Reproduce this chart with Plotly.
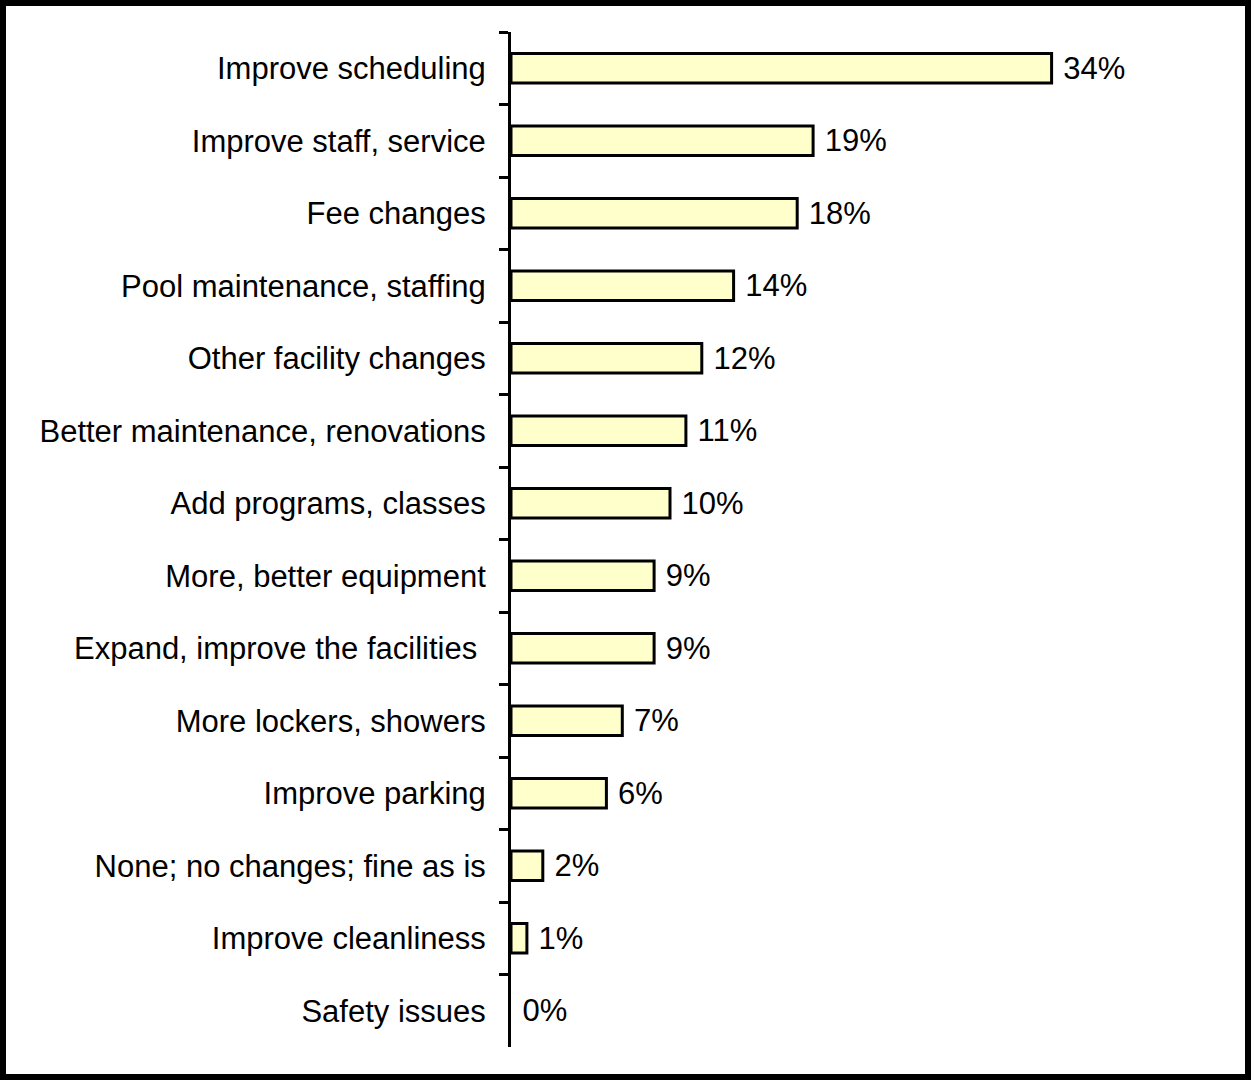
import plotly.graph_objects as go

categories = [
    "Improve scheduling",
    "Improve staff, service",
    "Fee changes",
    "Pool maintenance, staffing",
    "Other facility changes",
    "Better maintenance, renovations",
    "Add programs, classes",
    "More, better equipment",
    "Expand, improve the facilities ",
    "More lockers, showers",
    "Improve parking",
    "None; no changes; fine as is",
    "Improve cleanliness",
    "Safety issues",
]
values = [34, 19, 18, 14, 12, 11, 10, 9, 9, 7, 6, 2, 1, 0]

W, H = 1251, 1080
ml, mr, mt, mb = 511, 104, 32, 33
xmax = 40
FS = 31
FONT = "Liberation Sans, Arial"

fig = go.Figure(go.Bar(
    x=values,
    y=categories,
    orientation="h",
    width=0.41,
    marker=dict(color="#FFFFCC",
                line=dict(color="black", width=[3 if v > 0 else 0 for v in values])),
    text=[f"\u00a0{v}%" for v in values],
    textposition="outside",
    constraintext="none",
    textfont=dict(color="black", size=FS, family=FONT),
    cliponaxis=False,
))

pw = W - ml - mr
ph = H - mt - mb
fig.add_shape(
    type="rect", xref="paper", yref="paper",
    x0=-ml / pw, x1=1 + mr / pw, y0=-mb / ph, y1=1 + mt / ph,
    line=dict(color="black", width=12), fillcolor="rgba(0,0,0,0)", layer="above",
)

fig.update_layout(
    width=W, height=H,
    margin=dict(l=ml, r=mr, t=mt, b=mb, pad=0),
    paper_bgcolor="white", plot_bgcolor="white",
    showlegend=False,
    font=dict(family=FONT, size=FS, color="black"),
    xaxis=dict(range=[0, xmax], visible=False, showgrid=False, zeroline=False),
    yaxis=dict(
        categoryorder="array", categoryarray=categories,
        autorange="reversed",
        showline=True, linecolor="black", linewidth=3,
        ticks="outside", tickson="boundaries", ticklen=9, tickwidth=3, tickcolor="black",
        ticklabelstandoff=16,
        showgrid=False, zeroline=False,
        tickfont=dict(size=FS, color="black", family=FONT),
    ),
)

fig.write_html("out.html")
